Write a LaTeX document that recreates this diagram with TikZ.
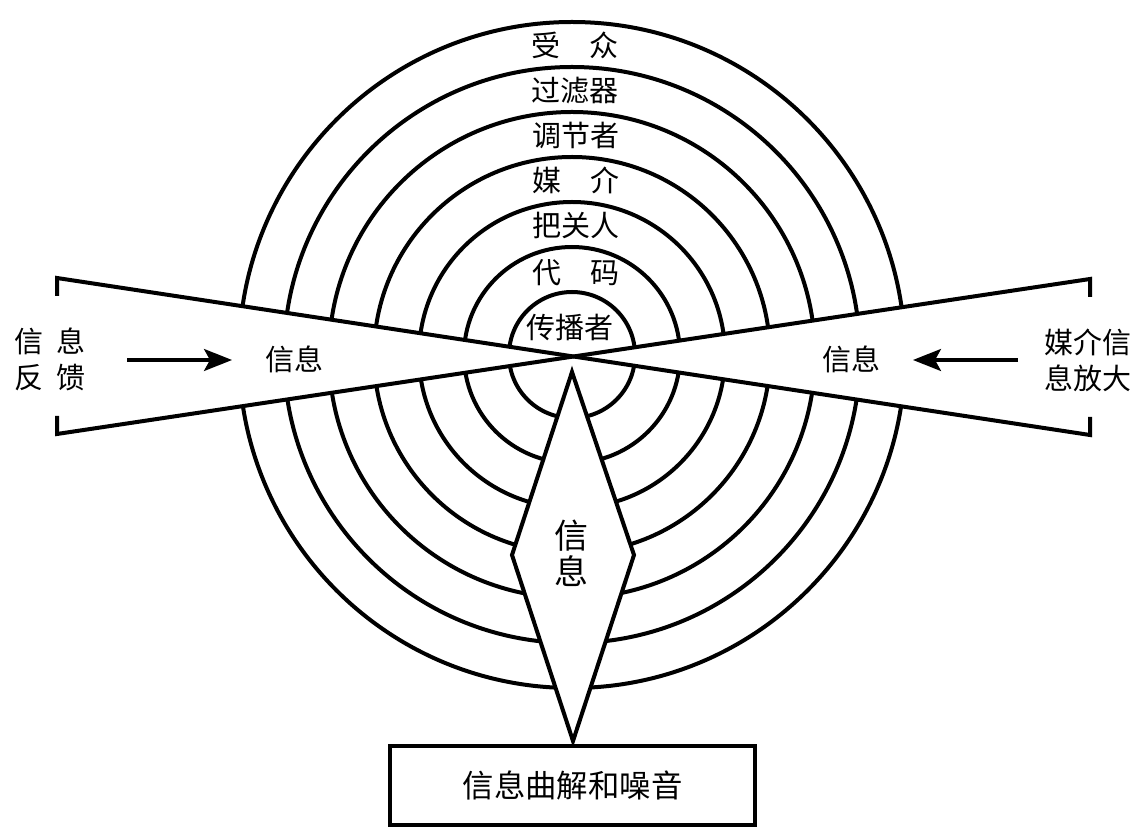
\documentclass[tikz,border=0pt]{standalone}
\usepackage{fontspec}
\newfontfamily\cjk{Noto Sans CJK SC}
\usetikzlibrary{arrows.meta}
\begin{document}
\begin{tikzpicture}[x=0.5pt,y=-0.5pt,
  ring/.style={draw=black, line width=2pt},
  edge/.style={draw=black, line width=2pt, line join=miter},
  lab/.style={font=\cjk\fontsize{14.5}{17}\selectfont, inner sep=0pt},
  side/.style={font=\cjk\fontsize{14.5}{18}\selectfont, inner sep=0pt, align=center},
  arr/.style={draw=black, line width=1.6pt, -{Stealth[length=14pt,width=11pt,inset=3pt]}}]
\useasboundingbox (0,0) rectangle (1146,833);
% centre of the rings
\coordinate (C) at (572,355);
% bow-tie corners and bracket ticks
\coordinate (LT) at (57,278);
\coordinate (LTt) at (57,296);
\coordinate (LB) at (57,434);
\coordinate (LBt) at (57,416);
\coordinate (RT) at (1090,279);
\coordinate (RTt) at (1090,297);
\coordinate (RB) at (1090,435);
\coordinate (RBt) at (1090,417);
\coordinate (X) at (intersection of LT--RB and LB--RT);
% diamond corners
\coordinate (D1) at (572,372);
\coordinate (D2) at (512,555);
\coordinate (D3) at (573,741);
\coordinate (D4) at (634,555);
% rings
\foreach \r in {333,288,243,198,153,108,63}
  \draw[ring] (C) circle[radius=\r*0.5pt];
% white cut-outs
\fill[white] (X) -- (LT) -- (LB) -- cycle;
\fill[white] (X) -- (RT) -- (RB) -- cycle;
\fill[white] (D1) -- (D2) -- (D3) -- (D4) -- cycle;
% bow-tie lines with brackets
\draw[edge] (LTt) -- (LT) -- (RB) -- (RBt);
\draw[edge] (LBt) -- (LB) -- (RT) -- (RTt);
% diamond
\draw[edge] (D1) -- (D2) -- (D3) -- (D4) -- cycle;
% ring labels
\node[lab] (r1) at (575,45) {受\hspace{1em}众};
\node[lab] (r2) at (575,91) {过滤器};
\node[lab] (r3) at (576,135) {调节者};
\node[lab] (r4) at (576,180) {媒\hspace{1em}介};
\node[lab] (r5) at (576,225) {把关人};
\node[lab] (r6) at (576,273) {代\hspace{1em}码};
\node[lab] (r7) at (570,327) {传播者};
% wedge labels
\node[lab] (wl) at (294,359) {信息};
\node[lab] (wr) at (851,359) {信息};
\node[font=\cjk\fontsize{17}{18}\selectfont, inner sep=0pt, align=center] (wd) at (571,553) {信\\息};
% side labels
\node[side] (sl) at (50,359) {信\hspace{7pt}息\\反\hspace{7pt}馈};
\node[side] (sr) at (1088,360) {媒介信\\息放大};
% arrows
\coordinate (al0) at (127,360);
\coordinate (al1) at (232,360);
\coordinate (ar0) at (1018,360);
\coordinate (ar1) at (913,360);
\draw[arr] (al0) -- (al1);
\draw[arr] (ar0) -- (ar1);
% bottom box
\node[draw=black, line width=2pt, minimum width=182.5pt, minimum height=39.5pt, inner sep=0pt,
  font=\cjk\fontsize{15.7}{18}\selectfont] (box) at (572.5,785.5) {信息曲解和噪音};
\end{tikzpicture}
\end{document}
